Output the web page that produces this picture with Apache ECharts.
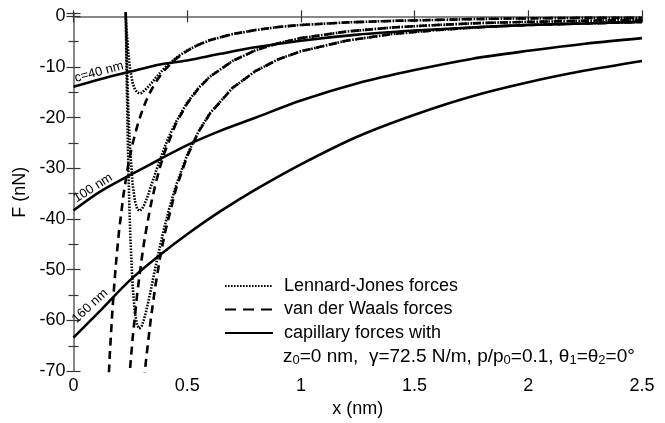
<!DOCTYPE html>
<html>
<head>
<meta charset="utf-8">
<script src="https://cdn.jsdelivr.net/npm/echarts@6/dist/echarts.min.js"></script>
<style>
html,body{margin:0;padding:0;background:#fff;}
#chart{width:665px;height:423px;}
</style>
</head>
<body>
<div id="chart"></div>
<script>
// ---- data ----
var ljX = [0.225,0.23,0.235,0.24,0.245,0.25,0.26,0.27,0.28,0.29,0.30,0.31,0.32,0.33,0.34,0.35,0.36,0.38,0.40,0.42,0.45,0.50,0.55,0.60,0.70,0.80,0.90,1.00,1.20,1.40,1.60,1.80,2.00,2.25,2.50];
var lj40  = [4.7,0,-3.7,-6.7,-8.9,-10.7,-13.1,-14.4,-15.0,-15.2,-15.1,-14.7,-14.3,-13.8,-13.3,-12.8,-12.2,-11.2,-10.2,-9.4,-8.2,-6.7,-5.6,-4.7,-3.5,-2.7,-2.1,-1.7,-1.2,-0.9,-0.7,-0.5,-0.4,-0.3,-0.3];
var lj100 = [12.0,0,-9.4,-16.8,-22.6,-27.1,-33.1,-36.4,-38.0,-38.4,-38.1,-37.3,-36.2,-35.0,-33.6,-32.3,-30.9,-28.3,-25.9,-23.7,-20.9,-17.0,-14.1,-11.9,-8.8,-6.7,-5.3,-4.3,-3.0,-2.2,-1.7,-1.3,-1.1,-0.9,-0.7];
var lj160 = [19.3,0,-15.1,-27.0,-36.3,-43.5,-53.2,-58.5,-61.0,-61.6,-61.1,-59.8,-58.1,-56.1,-54.0,-51.8,-49.6,-45.4,-41.6,-38.1,-33.5,-27.3,-22.7,-19.1,-14.1,-10.8,-8.5,-6.9,-4.8,-3.5,-2.7,-2.1,-1.7,-1.4,-1.1];

var vdw40X = [0.15,0.16,0.17,0.18,0.19,0.20,0.22,0.24,0.25,0.26,0.28,0.30,0.31,0.32,0.34,0.36,0.38,0.40,0.45,0.50,0.55,0.60,0.70,0.80,0.90,1.00,1.20,1.40,1.60,1.80,2.00,2.25,2.50];
var vdw40  = [-75.6,-66.4,-58.8,-52.5,-47.1,-42.5,-35.1,-29.5,-27.2,-25.1,-21.7,-18.9,-17.7,-16.6,-14.7,-13.1,-11.8,-10.6,-8.4,-6.8,-5.6,-4.7,-3.5,-2.7,-2.1,-1.7,-1.2,-0.9,-0.7,-0.5,-0.4,-0.3,-0.3];
var vdw100X = [0.24,0.25,0.26,0.28,0.30,0.31,0.32,0.34,0.36,0.38,0.40,0.45,0.50,0.55,0.60,0.70,0.80,0.90,1.00,1.20,1.40,1.60,1.80,2.00,2.25,2.50];
var vdw100  = [-74.7,-68.8,-63.6,-54.8,-47.8,-44.7,-42.0,-37.2,-33.2,-29.8,-26.9,-21.2,-17.2,-14.2,-11.9,-8.8,-6.7,-5.3,-4.3,-3.0,-2.2,-1.7,-1.3,-1.1,-0.85,-0.69];
var vdw160X = [0.31,0.32,0.34,0.36,0.38,0.40,0.45,0.50,0.55,0.60,0.70,0.80,0.90,1.00,1.20,1.40,1.60,1.80,2.00,2.25,2.50];
var vdw160  = [-71.8,-67.4,-59.7,-53.2,-47.8,-43.1,-34.1,-27.6,-22.8,-19.2,-14.1,-10.8,-8.5,-6.9,-4.8,-3.5,-2.7,-2.1,-1.7,-1.4,-1.1];

var capX = [0,0.117,0.25,0.38,0.5,0.645,0.8,1.0,1.25,1.5,1.75,2.0,2.25,2.5];
var cap40  = [-13.9,-12.4,-10.9,-9.5,-8.7,-7.4,-6.1,-4.8,-3.6,-2.8,-2.2,-1.7,-1.4,-1.1];
var cap100 = [-38.3,-34.6,-31.3,-28.2,-25.4,-22.6,-20.0,-16.6,-13.2,-10.6,-8.4,-6.8,-5.4,-4.3];
var cap160 = [-63.4,-58.1,-52.0,-47.1,-43.0,-38.5,-34.2,-29.2,-23.7,-19.4,-15.8,-13.0,-10.7,-8.8];

var xTicks = [0,0.5,1,1.5,2,2.5];
var yTickLabels = [-70,-60,-50,-40,-30,-20,-10,0];
var curveLabels = ['c=40 nm','100 nm','160 nm'];
var legendNames = ['Lennard-Jones forces','van der Waals forces','capillary forces with'];

function pairs(xs, ys){ return xs.map(function(x,i){ return [x, ys[i]]; }); }

var FONT = 'Liberation Sans, Arial, Helvetica, sans-serif';
var FS = 18;
var LW = 2.6;
var ljStyle  = {color:'#000', width:LW, type:[1.6,1.4]};
var vdwStyle = {color:'#000', width:LW, type:[8,5.5]};
var capStyle = {color:'#000', width:LW, type:'solid'};

function mk(name, data, style, smooth){
  return {name:name, type:'line', data:data, showSymbol:false, symbol:'none', smooth:smooth||false,
          lineStyle:style, itemStyle:{color:'#000'}, animation:false, clip:true, z:3};
}

var chart = echarts.init(document.getElementById('chart'), null, {renderer:'canvas'});

var frameLine = {show:true, lineStyle:{color:'#808080', width:1.5}};
var tickStyle = {color:'#333', width:1.2};

var option = {
  backgroundColor:'#fff',
  animation:false,
  grid:{left:73.5, right:23, top:13.3, bottom:49, containLabel:false},
  xAxis:[
    {type:'value', min:0, max:2.5, interval:0.5, position:'bottom',
     axisLine:frameLine, splitLine:{show:false},
     axisTick:{show:true, inside:true, length:6, lineStyle:tickStyle},
     axisLabel:{color:'#000', fontSize:FS, fontFamily:FONT, margin:6,
       formatter:function(v){ return xTicks.indexOf(v)>=0 ? String(v) : ''; }},
     name:'x (nm)', nameLocation:'middle', nameGap:25,
     nameTextStyle:{color:'#000', fontSize:FS, fontFamily:FONT}},
    {type:'value', min:0, max:2.5, interval:0.5, position:'top',
     axisLine:frameLine, splitLine:{show:false},
     axisTick:{show:true, inside:true, length:6, lineStyle:tickStyle},
     axisLabel:{show:false}}
  ],
  yAxis:[
    {type:'value', min:-70, max:0.6, interval:10, position:'left',
     axisLine:frameLine, splitLine:{show:false},
     axisTick:{show:true, inside:true, length:7, lineStyle:tickStyle},
     minorTick:{show:true, splitNumber:2, length:5, lineStyle:tickStyle},
     axisLabel:{color:'#000', fontSize:FS, fontFamily:FONT, margin:8, showMaxLabel:false,
       formatter:function(v){ return yTickLabels.indexOf(v)>=0 ? String(v) : ''; }},
     name:'F (nN)', nameLocation:'middle', nameGap:40, nameRotate:90,
     nameTextStyle:{color:'#000', fontSize:FS, fontFamily:FONT}},
    {type:'value', min:-70, max:0.6, interval:10, position:'right',
     axisLine:frameLine, splitLine:{show:false},
     axisTick:{show:true, inside:true, length:7, lineStyle:tickStyle},
     minorTick:{show:true, splitNumber:2, length:5, lineStyle:tickStyle},
     axisLabel:{show:false}}
  ],
  legend:{
    show:true, orient:'vertical', left:224, top:277, padding:0,
    itemWidth:48, itemHeight:14, itemGap:5.5,
    data:[
      {name:legendNames[0]},
      {name:legendNames[1], lineStyle:{type:[11,7]}},
      {name:legendNames[2]}
    ],
    selectedMode:false,
    itemStyle:{opacity:0},
    textStyle:{color:'#000', fontSize:FS, fontFamily:FONT, lineHeight:18, padding:[0,0,0,6]}
  },
  series:[
    mk(legendNames[0], pairs(ljX, lj40), ljStyle),
    mk(legendNames[0], pairs(ljX, lj100), ljStyle),
    mk(legendNames[0], pairs(ljX, lj160), ljStyle),
    mk(legendNames[1], pairs(vdw40X, vdw40), vdwStyle),
    mk(legendNames[1], pairs(vdw100X, vdw100), vdwStyle),
    mk(legendNames[1], pairs(vdw160X, vdw160), vdwStyle),
    mk(legendNames[2], pairs(capX, cap40), capStyle, 0.3),
    mk(legendNames[2], pairs(capX, cap100), capStyle, 0.3),
    mk(legendNames[2], pairs(capX, cap160), capStyle, 0.3)
  ],
  graphic:[
    {type:'text', left:283, top:347, z:10, style:{
      text:'z{s|0}=0 nm,  \u03b3=72.5 N/m, p/p{s|0}=0.1, \u03b8{s|1}=\u03b8{s|2}=0\u00b0',
      fill:'#000', font:'19px ' + FONT,
      rich:{s:{fontSize:13, fontFamily:FONT, verticalAlign:'bottom', padding:[7,0,0,0]}}
    }},
    {type:'text', x:99, y:72, z:10, rotation:15*Math.PI/180, style:{text:curveLabels[0], fill:'#000', font:'13px ' + FONT, align:'center', verticalAlign:'middle'}},
    {type:'text', x:93, y:188, z:10, rotation:32*Math.PI/180, style:{text:curveLabels[1], fill:'#000', font:'13px ' + FONT, align:'center', verticalAlign:'middle'}},
    {type:'text', x:90, y:306, z:10, rotation:43*Math.PI/180, style:{text:curveLabels[2], fill:'#000', font:'13px ' + FONT, align:'center', verticalAlign:'middle'}}
  ]
};
chart.setOption(option);
</script>
</body>
</html>
